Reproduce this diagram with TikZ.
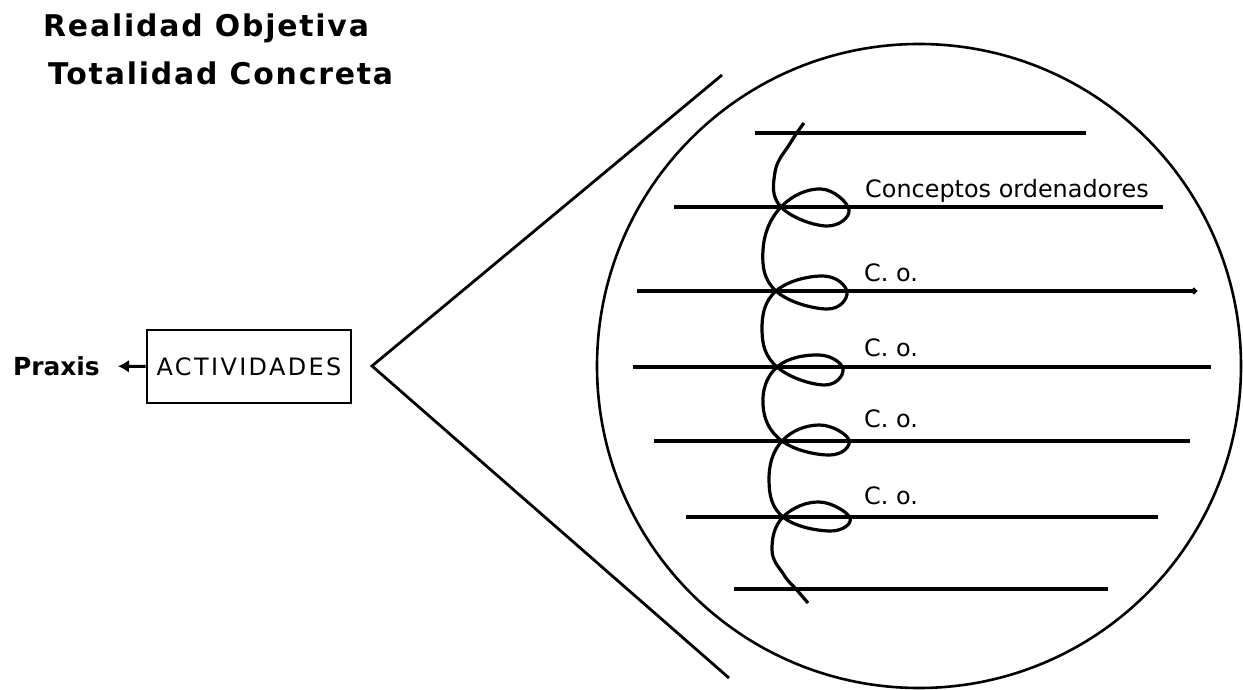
\documentclass[tikz,border=0pt]{standalone}
\usepackage{fontspec}
\setmainfont{DejaVu Sans}
\usepackage{tikz}
\usetikzlibrary{arrows.meta}
\usetikzlibrary{positioning}
\tikzset{line join=round, line cap=round,
  titulo/.style={anchor=base west, inner sep=0pt, font=\fontsize{30}{36}\selectfont\bfseries\addfontfeatures{LetterSpace=6}},
  colabel/.style={anchor=base west, inner sep=0pt, font=\fontsize{24}{28}\selectfont},
  actbox/.style={draw, line width=2.6bp, minimum width=204bp, minimum height=73bp, inner sep=0pt, font=\fontsize{24}{28}\selectfont\addfontfeatures{LetterSpace=10}},
  renglon/.style={line width=3.2bp},
}

\begin{document}
\begin{tikzpicture}[>=latex]
\useasboundingbox (0bp,0bp) rectangle (1243bp,690bp);
%%
  \node (realidad) at (43.0bp,653.0bp) [titulo] {Realidad Objetiva};
  \node (totalidad) at (48.0bp,605.0bp) [titulo] {Totalidad Concreta};
  \node (act) at (249.0bp,323.5bp) [actbox] {ACTIVIDADES};
  \node (praxis) at (100.0bp,324.0bp) [anchor=east, inner xsep=0pt, font=\fontsize{25}{28}\selectfont\bfseries] {Praxis};
  \draw [line width=3bp, -{Latex[length=11bp,width=13bp]}, shorten >=18bp] (act.west) -- (praxis.east);
%
  \coordinate (vertice) at (372.0bp,324.0bp);
  \coordinate (cunaU) at (722.0bp,615.0bp);
  \coordinate (cunaL) at (729.0bp,12.0bp);
  \draw [line width=2.8bp] (cunaU) -- (vertice) -- (cunaL);
  \draw [line width=2.6bp] (919.0bp,324.0bp) circle (322.0bp);
%
  \draw [renglon] (755.0bp,557.0bp) -- (1086.0bp,557.0bp);
  \draw [renglon] (674.0bp,483.0bp) -- (1163.0bp,483.0bp);
  \draw [renglon, -{Circle[length=6bp]}] (637.0bp,399.0bp) -- (1197.0bp,399.0bp);
  \draw [renglon] (633.0bp,323.0bp) -- (1211.0bp,323.0bp);
  \draw [renglon] (654.0bp,249.0bp) -- (1190.0bp,249.0bp);
  \draw [renglon] (686.0bp,173.0bp) -- (1158.0bp,173.0bp);
  \draw [renglon] (734.0bp,101.0bp) -- (1108.0bp,101.0bp);
%
  \node (co_0) at (865.0bp,492.0bp) [colabel] {Conceptos ordenadores};
  \node (co_1) at (864.0bp,408.0bp) [colabel] {C. o.};
  \node (co_2) at (864.0bp,333.0bp) [colabel] {C. o.};
  \node (co_3) at (864.0bp,262.0bp) [colabel] {C. o.};
  \node (co_4) at (864.0bp,185.0bp) [colabel] {C. o.};
%
  \draw [line width=3.2bp] plot [smooth, tension=0.7] coordinates {
    (804bp,567bp) (791bp,548bp) (775bp,518bp)
    (781bp,483bp) (826bp,464bp) (849bp,480bp) (821bp,501bp) (781bp,483bp)
    (763bp,440bp)
    (776bp,399bp) (827bp,381bp) (847bp,398bp) (823bp,414bp) (776bp,399bp)
    (762bp,360bp)
    (777bp,323bp) (824bp,305bp) (843bp,321bp) (819bp,335bp) (777bp,323bp)
    (763bp,285bp)
    (782bp,249bp) (830bp,235bp) (849bp,250bp) (819bp,265bp) (782bp,249bp)
    (769bp,210bp)
    (783bp,173bp) (830bp,159bp) (850bp,172bp) (819bp,188bp) (783bp,173bp)
    (772bp,140bp) (784bp,115bp) (796bp,101bp) (808bp,87bp)};
%
\end{tikzpicture}
\end{document}
